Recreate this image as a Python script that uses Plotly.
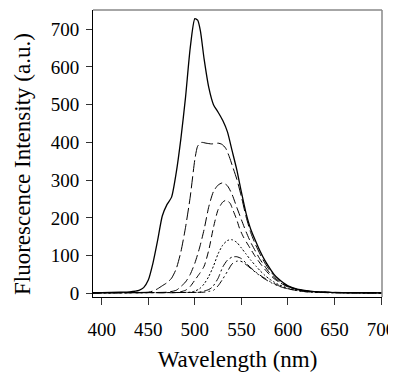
import plotly.graph_objects as go

# Wavelength (nm) and intensity (a.u.) for each spectrum
wl_s = [390, 400, 420, 430, 440, 445, 450, 455, 460, 465, 470, 475, 480, 485, 490, 495, 500, 503, 506, 510, 515, 520, 525, 530, 535, 540, 545, 550, 555, 560, 565, 570, 575, 580, 585, 590, 595, 600, 610, 620, 630, 640, 650, 675, 701]
y_s = [2, 2, 3, 4, 8, 15, 35, 80, 140, 205, 235, 255, 320, 410, 520, 650, 728, 724, 695, 620, 545, 500, 480, 458, 428, 378, 328, 268, 212, 170, 140, 112, 88, 68, 50, 38, 28, 20, 11, 7, 4, 3, 2, 1, 1]

wl_l = [390, 420, 450, 455, 460, 465, 470, 475, 480, 485, 490, 495, 500, 503, 507, 512, 518, 525, 529, 533, 537, 540, 545, 550, 555, 560, 565, 570, 575, 580, 585, 590, 595, 600, 610, 620, 630, 650, 701]
y_l = [1, 2, 3, 6, 12, 20, 28, 40, 65, 110, 175, 255, 355, 390, 400, 398, 396, 398, 395, 385, 362, 340, 303, 256, 203, 161, 130, 104, 81, 62, 47, 35, 26, 19, 10, 6, 4, 2, 1]

wl_d1 = [390, 440, 470, 480, 485, 490, 495, 500, 505, 510, 515, 520, 525, 530, 535, 540, 545, 550, 555, 560, 565, 570, 575, 580, 585, 590, 595, 600, 610, 620, 640, 701]
y_d1 = [1, 2, 3, 8, 18, 30, 50, 80, 120, 170, 230, 270, 287, 293, 285, 262, 228, 195, 163, 135, 112, 90, 72, 55, 42, 32, 24, 18, 10, 6, 3, 1]

wl_d2 = [390, 450, 480, 490, 495, 500, 505, 510, 515, 520, 525, 530, 534, 538, 541, 545, 548, 552, 556, 560, 565, 570, 575, 580, 585, 590, 600, 610, 620, 640, 701]
y_d2 = [1, 2, 2, 8, 18, 35, 52, 72, 115, 175, 222, 242, 247, 238, 220, 195, 172, 150, 133, 117, 97, 80, 64, 50, 39, 30, 17, 10, 6, 3, 1]

wl_dt = [390, 460, 495, 500, 505, 510, 515, 520, 525, 530, 535, 540, 545, 550, 555, 560, 566, 570, 575, 580, 585, 590, 600, 610, 620, 640, 701]
y_dt = [1, 2, 3, 6, 12, 25, 45, 72, 105, 128, 140, 142, 135, 120, 104, 88, 71, 60, 48, 38, 30, 23, 14, 8, 5, 2, 1]

wl_dd = [390, 470, 505, 510, 515, 519, 525, 530, 535, 540, 545, 550, 555, 560, 565, 570, 575, 580, 585, 590, 600, 610, 620, 640, 701]
y_dd = [1, 2, 3, 6, 10, 17, 40, 70, 88, 96, 97, 92, 80, 68, 57, 48, 40, 32, 26, 20, 12, 7, 4, 2, 1]

wl_ddd = [390, 480, 510, 515, 520, 525, 530, 535, 540, 545, 548, 552, 556, 562, 567, 572, 577, 582, 588, 595, 600, 610, 620, 640, 701]
y_ddd = [1, 2, 3, 5, 8, 20, 38, 58, 78, 85, 86, 82, 74, 62, 52, 43, 35, 28, 21, 15, 12, 7, 4, 2, 1]

x_ticks = [400, 450, 500, 550, 600, 650, 700]
y_ticks = [0, 100, 200, 300, 400, 500, 600, 700]

series = [
    (wl_s, y_s, "solid", 1.3),
    (wl_l, y_l, "12px,4px", 1.0),
    (wl_d1, y_d1, "9px,4px", 1.0),
    (wl_d2, y_d2, "7px,4px", 1.0),
    (wl_dt, y_dt, "2px,2px", 1.0),
    (wl_dd, y_dd, "8px,3px,2px,3px", 1.0),
    (wl_ddd, y_ddd, "8px,3px,2px,3px,2px,3px", 1.0),
]

fig = go.Figure()
for xs, ys, dash, w in series:
    fig.add_trace(go.Scatter(x=xs, y=ys, mode="lines",
                             line=dict(color="black", width=w, dash=dash,
                                       shape="spline", smoothing=0.6),
                             showlegend=False, hoverinfo="skip"))

FONT = "Liberation Serif"
tick_font = dict(family=FONT, size=19, color="black")
title_font = dict(family=FONT, size=23, color="black")

# The page body has an 8px default margin, so the figure is sized to fit the window
fig.update_layout(
    width=388, height=365,
    margin=dict(l=85, r=14, t=2, b=76),
    paper_bgcolor="white", plot_bgcolor="white",
    font=dict(family=FONT, size=19, color="black"),
    xaxis=dict(range=[390.6, 701], tickvals=x_ticks, ticks="outside", ticklen=7,
               tickwidth=1, tickcolor="#333", showline=True, linecolor="black",
               linewidth=1, showgrid=False, zeroline=False, tickfont=tick_font,
               automargin=False, ticklabeloverflow="allow", ticklabelstandoff=8,
               title=dict(text="Wavelength (nm)", font=title_font, standoff=12)),
    yaxis=dict(range=[-9.8, 751], tickvals=y_ticks, ticks="outside", ticklen=6,
               tickwidth=1, tickcolor="#333", showline=True, linecolor="black",
               linewidth=1, showgrid=False, zeroline=False, tickfont=tick_font,
               automargin=False, ticklabelstandoff=3, ticklabeloverflow="allow"),
    annotations=[
        dict(text="Fluorescence Intensity (a.u.)", textangle=-90, showarrow=False,
             xref="paper", yref="paper", x=-0.246, y=0.463,
             xanchor="center", yanchor="middle", font=title_font),
    ],
    shapes=[
        dict(type="line", xref="paper", yref="paper", x0=0, x1=1, y0=1, y1=1,
             line=dict(color="#888", width=1.5)),
        dict(type="line", xref="paper", yref="paper", x0=1, x1=1, y0=0, y1=1,
             line=dict(color="#888", width=1.5)),
    ],
)

fig.write_html("out.html")
